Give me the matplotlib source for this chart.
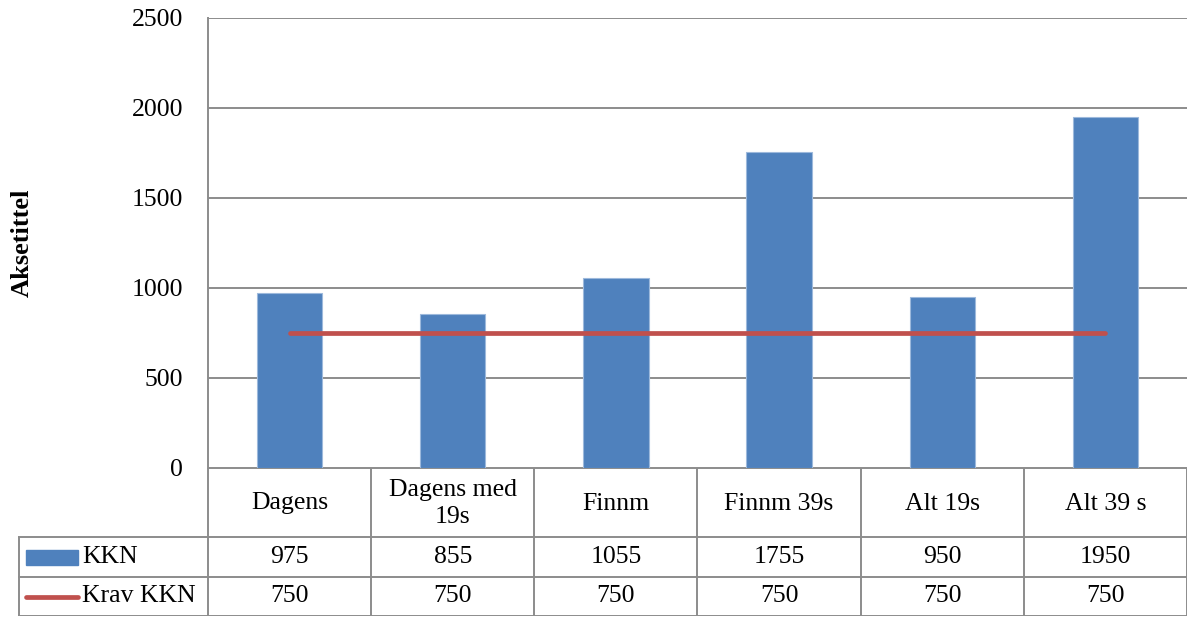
import matplotlib
matplotlib.use("Agg")
import matplotlib.pyplot as plt
from matplotlib.patches import Rectangle
from matplotlib.lines import Line2D

# data
categories = ['Dagens', 'Dagens med\n19s', 'Finnm', 'Finnm 39s', 'Alt 19s', 'Alt 39 s']
kkn = [975, 855, 1055, 1755, 950, 1950]
krav_kkn = [750, 750, 750, 750, 750, 750]
series_names = ['KKN', 'Krav KKN']
y_ticks = [0, 500, 1000, 1500, 2000, 2500]

bar_color = '#4F81BD'
line_color = '#C0504D'
grid_color = '#8C8C8C'
fs = 18.5

plt.rcParams['font.family'] = ['Liberation Serif', 'DejaVu Serif']

W, H = 1190, 619
fig = plt.figure(figsize=(W / 100, H / 100), dpi=100)

# pixel layout
px_left, px_right, px_top, px_zero = 208, 1187, 18, 468
tab_left, tab_bottom = 18, 616
row_edges = [0, 69, 109, 148]   # table row boundaries (px below the zero line)

ax = fig.add_axes([px_left / W, (H - px_zero) / H,
                   (px_right - px_left) / W, (px_zero - px_top) / H])
n = len(categories)
x = list(range(n))
ax.bar(x, kkn, width=0.4, color=bar_color, edgecolor='#9DB9DC', linewidth=0.8, zorder=3)
ax.plot(x, krav_kkn, color=line_color, linewidth=3.4, solid_capstyle='round', zorder=4)
ax.set_xlim(-0.5, n - 0.5)
ax.set_ylim(0, 2500)
ax.set_yticks(y_ticks)
ax.set_yticklabels([str(v) for v in y_ticks], fontsize=fs)
ax.tick_params(axis='y', length=0, pad=18)
ax.tick_params(axis='x', length=0, labelbottom=False)
ax.grid(axis='y', color=grid_color, linewidth=1.4, zorder=0)
for s in ['top', 'right', 'bottom']:
    ax.spines[s].set_visible(False)
ax.spines['left'].set_color(grid_color)
ax.spines['left'].set_linewidth(1.4)
fig.text(22 / W, 1 - 243 / H, 'Aksetittel', rotation=90, ha='center', va='center',
         fontsize=19, fontweight='bold')

# data table below the plot
cat_w = (px_right - px_left) / n
tab = fig.add_axes([tab_left / W, (H - tab_bottom) / H,
                    (px_right - tab_left) / W, (tab_bottom - px_zero) / H])
x0 = -0.5 - (px_left - tab_left) / cat_w
tab.set_xlim(x0, n - 0.5)
tab.set_ylim(row_edges[-1], 0)
tab.axis('off')

lw = 1.4
# horizontal lines
tab.hlines(row_edges[0], -0.5, n - 0.5, color=grid_color, lw=lw)
for r in row_edges[1:]:
    tab.hlines(r, x0, n - 0.5, color=grid_color, lw=lw)
# vertical lines
for i in range(n + 1):
    tab.vlines(i - 0.5, row_edges[0], row_edges[-1], color=grid_color, lw=lw)
tab.vlines(x0 + 0.005, row_edges[1], row_edges[-1], color=grid_color, lw=lw)

for i, c in enumerate(categories):
    tab.text(i, (row_edges[0] + row_edges[1]) / 2 + 1, c, ha='center', va='center',
             fontsize=fs, linespacing=1.35)
    tab.text(i, (row_edges[1] + row_edges[2]) / 2, str(kkn[i]), ha='center', va='center', fontsize=fs)
    tab.text(i, (row_edges[2] + row_edges[3]) / 2, str(krav_kkn[i]), ha='center', va='center', fontsize=fs)

# legend keys inside the table
ky1 = (row_edges[1] + row_edges[2]) / 2
ky2 = (row_edges[2] + row_edges[3]) / 2
kx = x0 + 8 / cat_w
kw = 52 / cat_w
tab.add_patch(Rectangle((kx, ky1 - 7.5), kw, 15, color=bar_color))
tab.add_line(Line2D([kx, kx + kw], [ky2, ky2], color=line_color, lw=3.4, solid_capstyle='round'))
tab.text(kx + kw + 4 / cat_w, ky1, series_names[0], ha='left', va='center', fontsize=fs)
tab.text(kx + kw + 4 / cat_w, ky2, series_names[1], ha='left', va='center', fontsize=fs)

fig.savefig('out.png', dpi=100)
